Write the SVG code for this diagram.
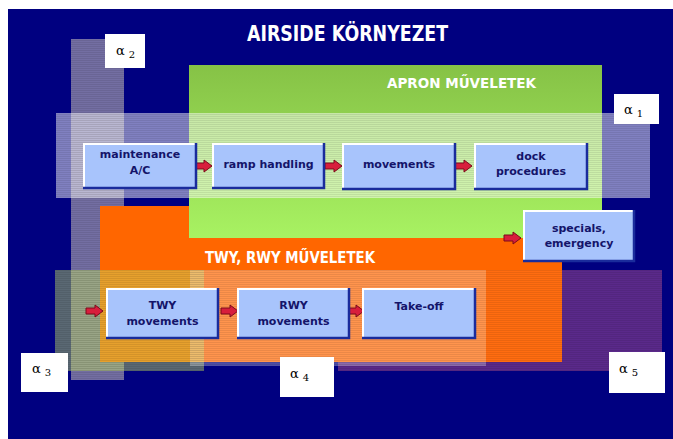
<svg xmlns="http://www.w3.org/2000/svg" width="673" height="439" viewBox="0 0 673 439">
<style>
.nbox{fill:#a8c4fc}
.hl{fill:none;stroke:#ffffff;stroke-width:2}
.sh{fill:none;stroke:#1a2c9c;stroke-width:2.5}
.nt{font-family:"DejaVu Sans",sans-serif;font-weight:bold;font-size:11px;fill:#14146a;text-anchor:middle}
.hd{font-family:"DejaVu Sans",sans-serif;font-weight:bold;fill:#ffffff}
.ab{fill:#ffffff}
.al{font-family:"DejaVu Serif","Liberation Serif",serif;font-size:13px;fill:#000000}
.sub{font-size:10px}
.arr{fill:#d81e3c;stroke:#7a0a1a;stroke-width:1}
</style>
<defs>
<linearGradient id="gGreen" x1="0" y1="0" x2="0" y2="1">
<stop offset="0" stop-color="#86c246"/>
<stop offset="1" stop-color="#a8f262"/>
</linearGradient>
<pattern id="stripes" patternUnits="userSpaceOnUse" width="4" height="2">
<rect x="0" y="0" width="4" height="1" fill="#000000" fill-opacity="0.08"/>
</pattern>
<path id="arrow" d="M0,-3 H9 V-6 L17,0 L9,6 V3 H0 Z"/>
</defs>

<rect x="8" y="9" width="665" height="430" fill="#000080"/>

<g id="bands">
<rect x="71" y="39" width="53" height="341" fill="#d2c8be" fill-opacity="0.55"/>
<rect x="71" y="39" width="53" height="341" fill="url(#stripes)"/>
<rect x="338" y="270" width="324" height="101" fill="#c85a96" fill-opacity="0.45"/>
<rect x="338" y="270" width="324" height="101" fill="url(#stripes)"/>
</g>

<g id="twy-rwy-area">
<rect x="100" y="206" width="462" height="156" fill="#ff6600"/>
<rect x="486" y="270" width="76" height="92" fill="#ff8040" fill-opacity="0.25"/>
<rect x="486" y="270" width="76" height="92" fill="url(#stripes)"/>
<text class="hd" x="205" y="263" font-size="15" textLength="170" lengthAdjust="spacingAndGlyphs">TWY, RWY MŰVELETEK</text>
</g>

<g id="apron-area">
<rect x="189" y="65" width="413" height="173" fill="url(#gGreen)"/>
<text class="hd" x="387" y="88" font-size="14" textLength="149" lengthAdjust="spacingAndGlyphs">APRON MŰVELETEK</text>
</g>

<g id="overlay-bands">
<rect x="56" y="113" width="594" height="85" fill="#ffffff" fill-opacity="0.5"/>
<rect x="56" y="113" width="594" height="85" fill="url(#stripes)"/>
<rect x="55" y="270" width="149" height="101" fill="#c8e664" fill-opacity="0.45"/>
<rect x="55" y="270" width="149" height="101" fill="url(#stripes)"/>
<rect x="190" y="270" width="296" height="96" fill="#ffffff" fill-opacity="0.3"/>
<rect x="190" y="270" width="296" height="96" fill="url(#stripes)"/>
</g>

<g id="title">
<text class="hd" x="247" y="41" font-size="21" textLength="201" lengthAdjust="spacingAndGlyphs">AIRSIDE KÖRNYEZET</text>
</g>

<g id="connectors">
<use href="#arrow" class="arr" transform="translate(195,166)"/>
<use href="#arrow" class="arr" transform="translate(325,166)"/>
<use href="#arrow" class="arr" transform="translate(455,166)"/>
<use href="#arrow" class="arr" transform="translate(504,238)"/>
<use href="#arrow" class="arr" transform="translate(86,311)"/>
<use href="#arrow" class="arr" transform="translate(221,311)"/>
<use href="#arrow" class="arr" transform="translate(347,311)"/>
</g>

<g id="node-maintenance">
<rect class="nbox" x="83" y="143" width="114" height="46"/>
<polyline class="hl" points="84,189 84,144 196,144"/>
<polyline class="sh" points="196,143 196,188 83,188"/>
<text class="nt" x="140" y="158">maintenance</text>
<text class="nt" x="140" y="174">A/C</text>
</g>

<g id="node-ramp">
<rect class="nbox" x="212" y="143" width="113" height="46"/>
<polyline class="hl" points="213,189 213,144 324,144"/>
<polyline class="sh" points="324,143 324,188 212,188"/>
<text class="nt" x="268.5" y="168">ramp handling</text>
</g>

<g id="node-movements">
<rect class="nbox" x="342" y="143" width="114" height="47"/>
<polyline class="hl" points="343,190 343,144 455,144"/>
<polyline class="sh" points="455,143 455,189 342,189"/>
<text class="nt" x="399" y="168">movements</text>
</g>

<g id="node-dock">
<rect class="nbox" x="474" y="143" width="114" height="47"/>
<polyline class="hl" points="475,190 475,144 587,144"/>
<polyline class="sh" points="587,143 587,189 474,189"/>
<text class="nt" x="531" y="160">dock</text>
<text class="nt" x="531" y="175">procedures</text>
</g>

<g id="node-specials">
<rect class="nbox" x="523" y="210" width="112" height="52"/>
<polyline class="hl" points="524,262 524,211 634,211"/>
<polyline class="sh" points="634,210 634,261 523,261"/>
<text class="nt" x="579" y="232">specials,</text>
<text class="nt" x="579" y="247">emergency</text>
</g>

<g id="node-twy">
<rect class="nbox" x="106" y="288" width="113" height="51"/>
<polyline class="hl" points="107,339 107,289 218,289"/>
<polyline class="sh" points="218,288 218,338 106,338"/>
<text class="nt" x="162.5" y="309">TWY</text>
<text class="nt" x="162.5" y="325">movements</text>
</g>

<g id="node-rwy">
<rect class="nbox" x="237" y="288" width="113" height="51"/>
<polyline class="hl" points="238,339 238,289 349,289"/>
<polyline class="sh" points="349,288 349,338 237,338"/>
<text class="nt" x="293.5" y="309">RWY</text>
<text class="nt" x="293.5" y="325">movements</text>
</g>

<g id="node-takeoff">
<rect class="nbox" x="362" y="288" width="114" height="51"/>
<polyline class="hl" points="363,339 363,289 475,289"/>
<polyline class="sh" points="475,288 475,338 362,338"/>
<text class="nt" x="419" y="310">Take-off</text>
</g>

<g id="label-a1">
<rect class="ab" x="614" y="94" width="45" height="30"/>
<text class="al" x="624" y="114">α<tspan class="sub" dx="4" dy="3">1</tspan></text>
</g>
<g id="label-a2">
<rect class="ab" x="105" y="34" width="40" height="34"/>
<text class="al" x="116" y="55">α<tspan class="sub" dx="4" dy="3">2</tspan></text>
</g>
<g id="label-a3">
<rect class="ab" x="21" y="353" width="47" height="39"/>
<text class="al" x="32" y="373">α<tspan class="sub" dx="4" dy="3">3</tspan></text>
</g>
<g id="label-a4">
<rect class="ab" x="280" y="357" width="54" height="40"/>
<text class="al" x="290" y="378">α<tspan class="sub" dx="4" dy="3">4</tspan></text>
</g>
<g id="label-a5">
<rect class="ab" x="609" y="352" width="56" height="41"/>
<text class="al" x="619" y="373">α<tspan class="sub" dx="4" dy="3">5</tspan></text>
</g>
</svg>
